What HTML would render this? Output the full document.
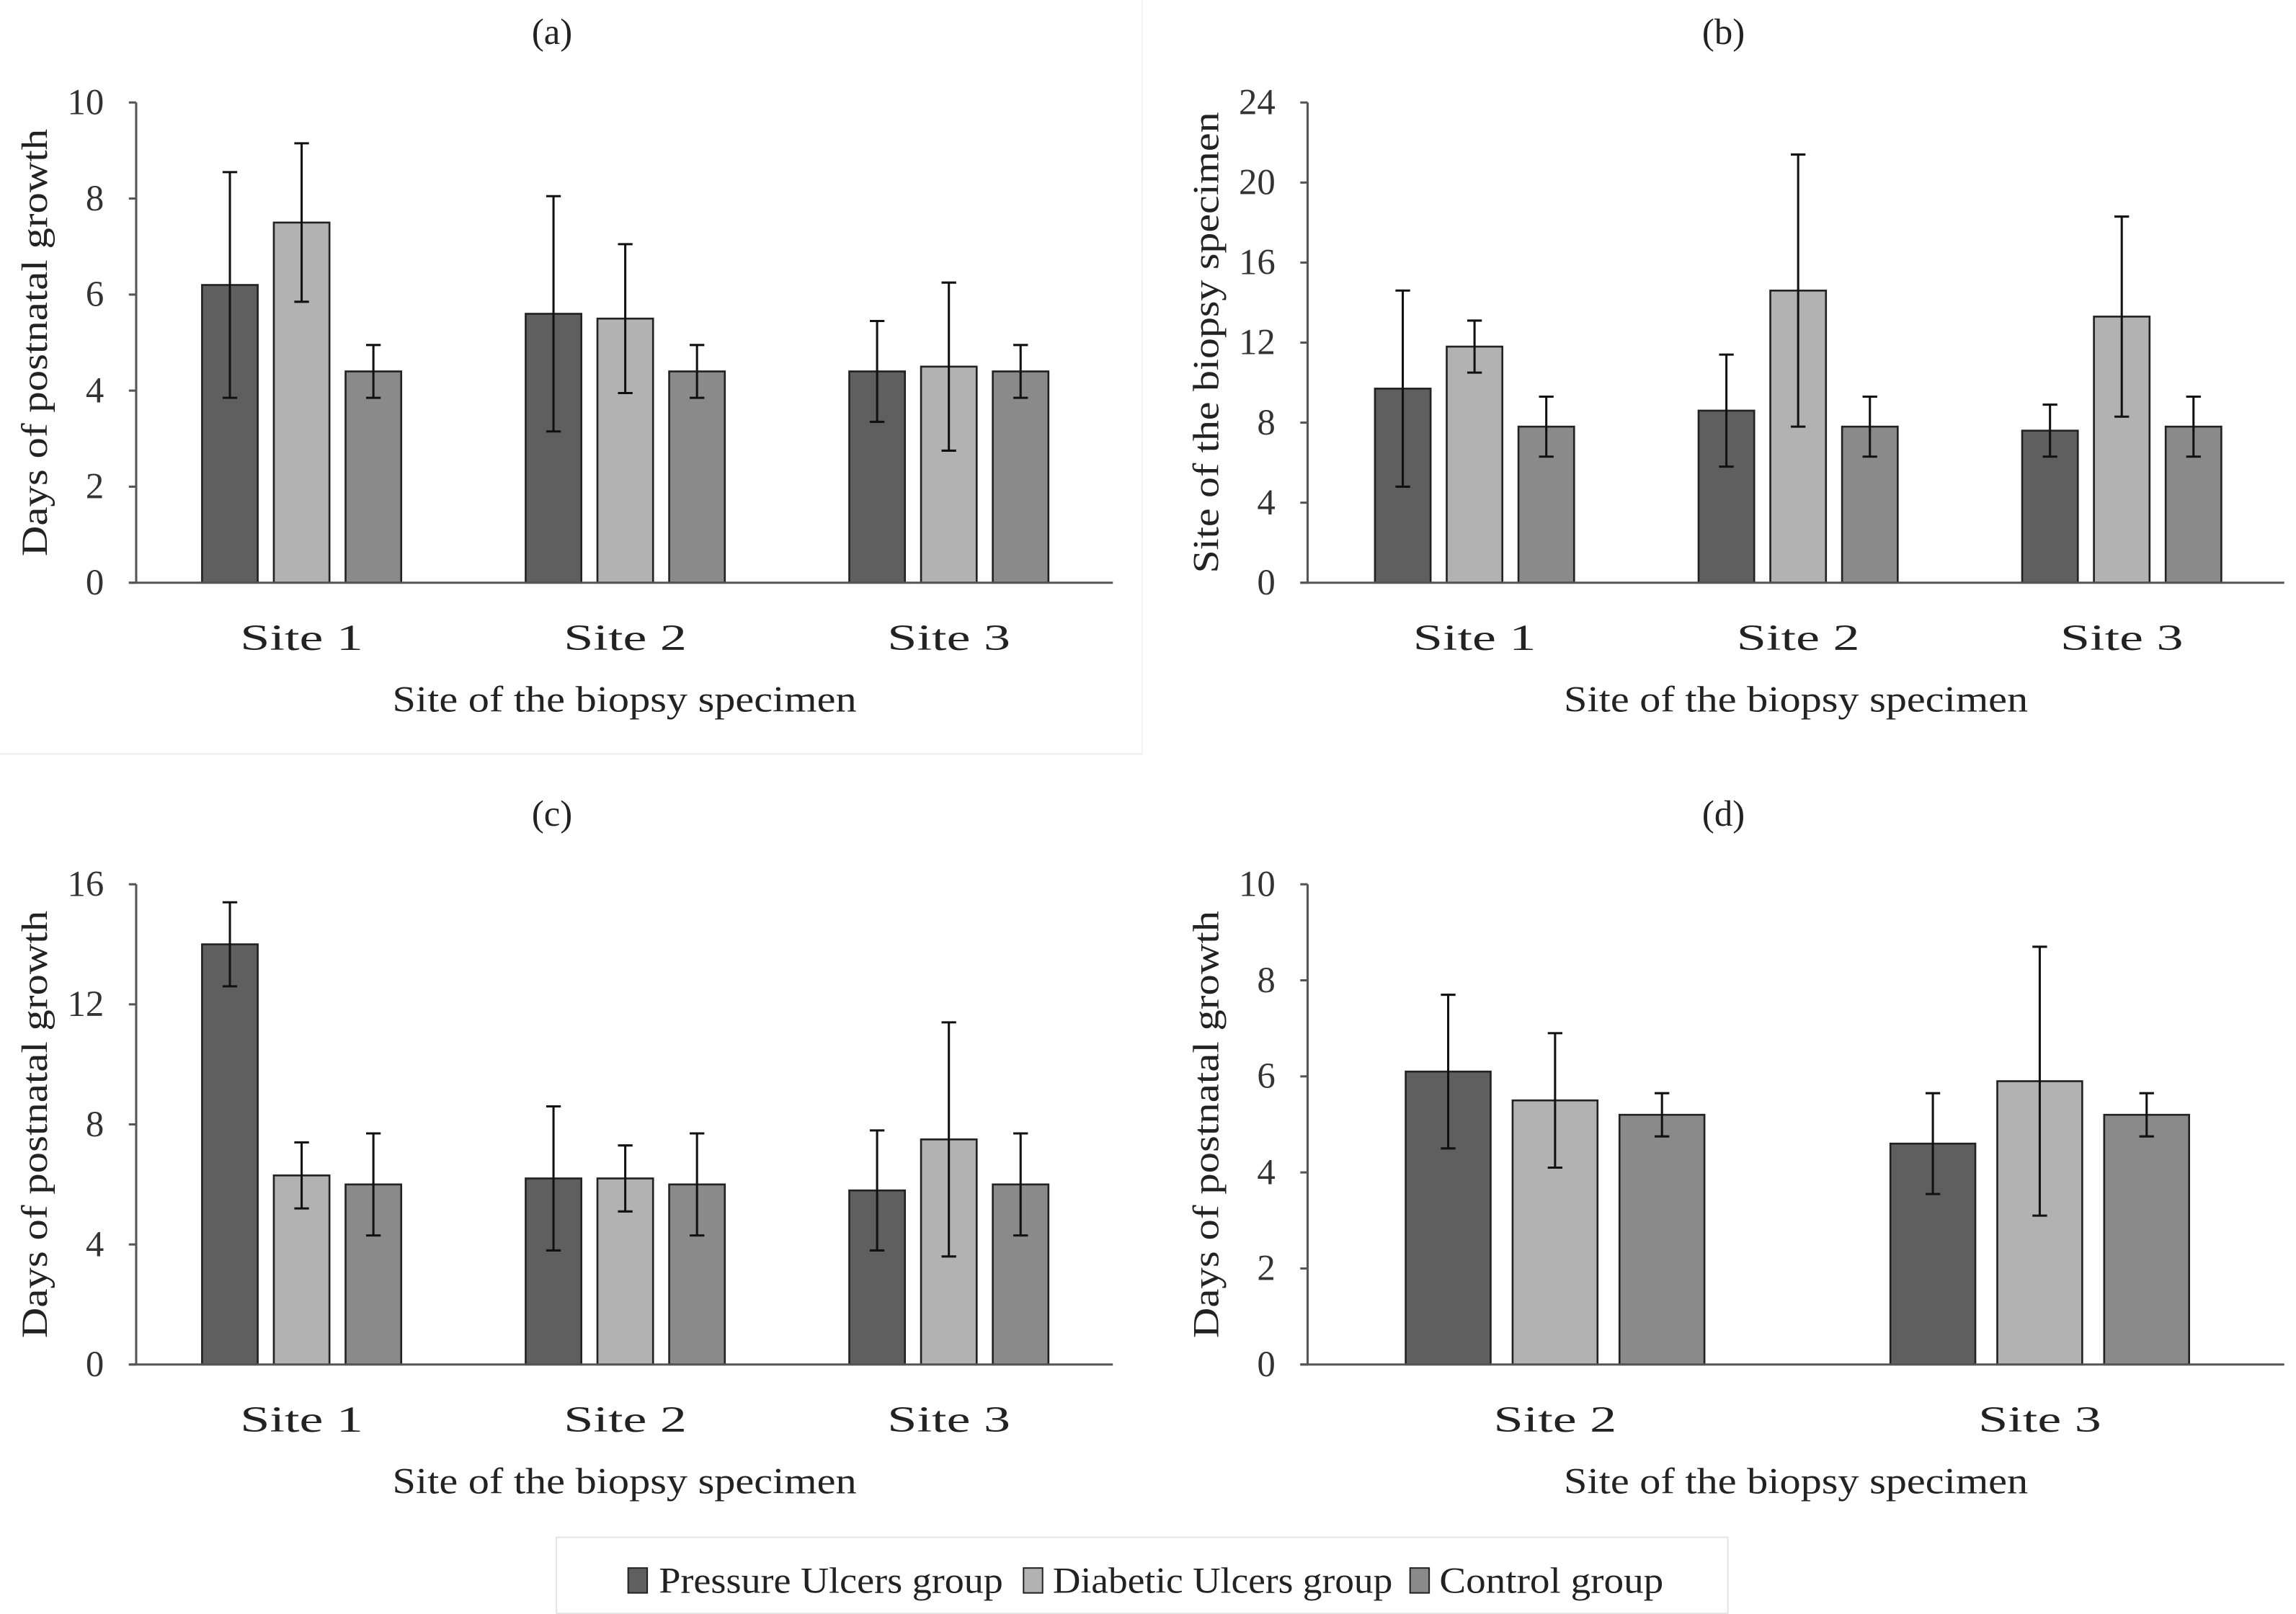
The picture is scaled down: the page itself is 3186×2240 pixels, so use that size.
<!DOCTYPE html>
<html><head><meta charset="utf-8"><style>html,body{margin:0;padding:0;background:#fff}svg{display:block}</style></head>
<body>
<svg id="fig" xmlns="http://www.w3.org/2000/svg" width="3186" height="2240" viewBox="0 0 1568 1102.4" font-family="'Liberation Serif', serif" fill="#222">
<rect width="1568" height="1102.4" fill="#fff"/>
<line x1="0" y1="515" x2="780" y2="515" stroke="#eee" stroke-width="1"/>
<line x1="780" y1="0" x2="780" y2="515" stroke="#f2f2f2" stroke-width="1"/>
<g>
<rect x="380" y="1050" width="800" height="52" fill="#fff" stroke="#e4e4e4" stroke-width="1"/>
<rect x="429" y="1071" width="13" height="17" fill="#5f5f5f" stroke="#222" stroke-width="1"/>
<text x="450" y="1088" font-size="25" textLength="235" lengthAdjust="spacingAndGlyphs">Pressure Ulcers group</text>
<rect x="699" y="1071" width="13" height="17" fill="#b2b2b2" stroke="#222" stroke-width="1"/>
<text x="719" y="1088" font-size="25" textLength="232" lengthAdjust="spacingAndGlyphs">Diabetic Ulcers group</text>
<rect x="963" y="1071" width="13" height="17" fill="#8a8a8a" stroke="#222" stroke-width="1"/>
<text x="983" y="1088" font-size="25" textLength="153" lengthAdjust="spacingAndGlyphs">Control group</text>
</g>
</svg>
<script>
const colors=['#5f5f5f','#b2b2b2','#8a8a8a'];
const catsA=['Site 1','Site 2','Site 3'];
const valsA=[[6.2,7.5,4.4],[5.6,5.5,4.4],[4.4,4.5,4.4]];
const errA=[[2.35,1.65,0.55],[2.45,1.55,0.55],[1.05,1.75,0.55]];
const ticksA=[0,2,4,6,8,10];
const catsB=['Site 1','Site 2','Site 3'];
const valsB=[[9.7,11.8,7.8],[8.6,14.6,7.8],[7.6,13.3,7.8]];
const errB=[[4.9,1.3,1.5],[2.8,6.8,1.5],[1.3,5.0,1.5]];
const ticksB=[0,4,8,12,16,20,24];
const catsC=['Site 1','Site 2','Site 3'];
const valsC=[[14.0,6.3,6.0],[6.2,6.2,6.0],[5.8,7.5,6.0]];
const errC=[[1.4,1.1,1.7],[2.4,1.1,1.7],[2.0,3.9,1.7]];
const ticksC=[0,4,8,12,16];
const catsD=['Site 2','Site 3'];
const valsD=[[6.1,5.5,5.2],[4.6,5.9,5.2]];
const errD=[[1.6,1.4,0.45],[1.05,2.8,0.45]];
const ticksD=[0,2,4,6,8,10];

const svg=document.getElementById('fig');
const NS='http://www.w3.org/2000/svg';
function mk(tag,attrs,parent){const e=document.createElementNS(NS,tag);for(const k in attrs)e.setAttribute(k,attrs[k]);parent.appendChild(e);return e;}

function panel(id,label,ax,axEnd,y0,yTop,ticks,cats,vals,errs,x0,step,off,bw,ytitle,ylen){
  const g=mk('g',{},svg);
  
  
  const max=ticks[ticks.length-1];
  const y=v=>y0-(v/max)*(y0-yTop);
  const xc=i=>x0+i*step;
  const t=mk('text',{x:ax+284,y:yTop-40,'font-size':25,'text-anchor':'middle'},g);t.textContent='('+label+')';
  
  
  ticks.forEach(v=>{
    mk('line',{x1:ax-5,x2:ax,y1:y(v),y2:y(v),stroke:'#555','stroke-width':1.5},g);
    const tl=mk('text',{x:ax-22,y:y(v)+8,'font-size':25,'text-anchor':'end',fill:'#333'},g);tl.textContent=v;
    
    
  });
  mk('line',{x1:ax,x2:ax,y1:yTop,y2:y0,stroke:'#555','stroke-width':1.5},g);
  cats.forEach((c,i)=>{
    vals[i].forEach((v,j)=>{
      const cx=xc(i)+(j-1)*off;
      const r=mk('rect',{x:cx-bw/2,y:y(v),width:bw,height:y0-y(v),fill:colors[j],stroke:'#222','stroke-width':1.3},g);
      
      
      const e=errs[i][j];
      mk('line',{x1:cx,x2:cx,y1:y(v-e),y2:y(v+e),stroke:'#111','stroke-width':1.5},g);
      mk('line',{x1:cx-5,x2:cx+5,y1:y(v-e),y2:y(v-e),stroke:'#111','stroke-width':1.5},g);
      mk('line',{x1:cx-5,x2:cx+5,y1:y(v+e),y2:y(v+e),stroke:'#111','stroke-width':1.5},g);
    });
    const cl=mk('text',{x:xc(i)-42,y:y0+46,'font-size':25,textLength:84,lengthAdjust:'spacingAndGlyphs'},g);cl.textContent=c;
    
    
  });
  mk('line',{x1:ax-5,x2:axEnd,y1:y0,y2:y0,stroke:'#555','stroke-width':1.5},g);
  const xt=mk('text',{x:ax+175,y:y0+88,'font-size':25,textLength:317,lengthAdjust:'spacingAndGlyphs'},g);xt.textContent='Site of the biopsy  specimen';
  
  
  const ycx=ax-63, ycy=(y0+yTop)/2;
  const yt=mk('text',{x:ycx-ylen/2,y:ycy+2,'font-size':25,textLength:ylen,lengthAdjust:'spacingAndGlyphs',transform:`rotate(-90 ${ycx} ${ycy})`},g);yt.textContent=ytitle;
  
  
}
panel('a','a',93,760,398,70,ticksA,catsA,valsA,errA,206,221,49,38,'Days of postnatal growth',292);
panel('b','b',893,1560,398,70,ticksB,catsB,valsB,errB,1007,221,49,38,'Site of the biopsy  specimen',315);
panel('c','c',93,760,932,604,ticksC,catsC,valsC,errC,206,221,49,38,'Days of postnatal growth',292);
panel('d','d',893,1560,932,604,ticksD,catsD,valsD,errD,1062,331,73,58,'Days of postnatal growth',292);
</script>
</body></html>
